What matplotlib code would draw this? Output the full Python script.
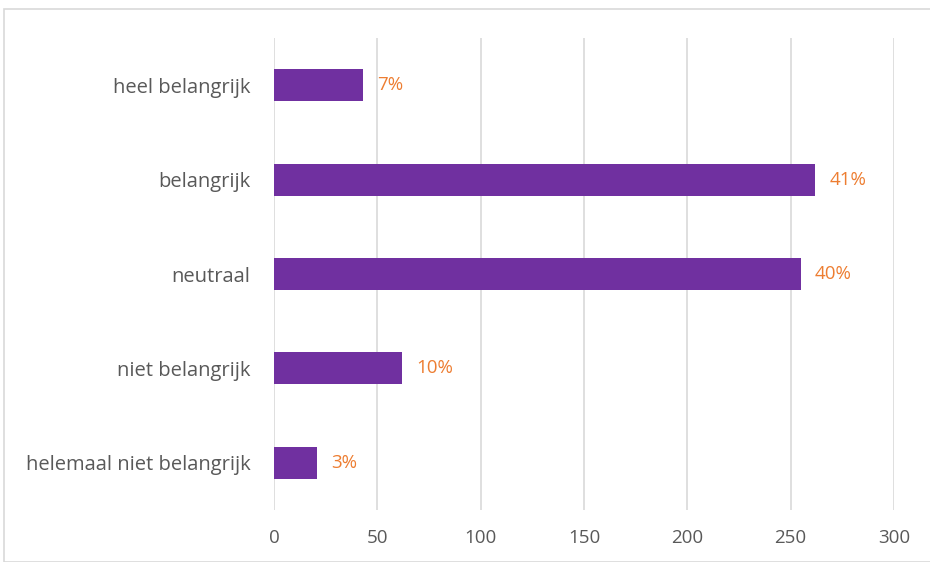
import matplotlib.pyplot as plt
from matplotlib.patches import Rectangle

plt.rcParams['font.family'] = ['Open Sans', 'DejaVu Sans']

categories = ['helemaal niet belangrijk', 'niet belangrijk', 'neutraal', 'belangrijk', 'heel belangrijk']
counts = [21, 62, 255, 262, 43]
pct_labels = ['3%', '10%', '40%', '41%', '7%']
xticks = [0, 50, 100, 150, 200, 250, 300]

fig = plt.figure(figsize=(9.3, 5.62), dpi=100)
ax = fig.add_axes([0.2946, 0.0925, 0.6667, 0.8399])

# chart frame
fig.patches.append(Rectangle((4 / 930, 0.0), 1.0, 1 - 9 / 562, transform=fig.transFigure,
                             fill=False, edgecolor='#D9D9D9', linewidth=1.2))

ax.barh(range(len(categories)), counts, height=0.34, color='#7030A0', zorder=3)
for i, (v, lab) in enumerate(zip(counts, pct_labels)):
    ax.annotate(lab, (v, i), xytext=(10, 0), textcoords='offset points',
                va='center', ha='left', color='#ED7D31', fontsize=13.5)

ax.set_xlim(0, 300)
ax.set_ylim(-0.5, len(categories) - 0.5)
ax.set_xticks(xticks)
ax.set_yticks(range(len(categories)))
ax.set_yticklabels(categories)
ax.grid(axis='x', color='#D9D9D9', linewidth=1.2, zorder=0)
for s in ax.spines.values():
    s.set_visible(False)
ax.tick_params(axis='both', length=0, labelsize=13.5, labelcolor='#595959')
ax.tick_params(axis='y', pad=17)
ax.tick_params(axis='x', pad=14)
for t in ax.get_yticklabels():
    t.set_fontsize(14.5)

fig.savefig('out.png', dpi=100)
